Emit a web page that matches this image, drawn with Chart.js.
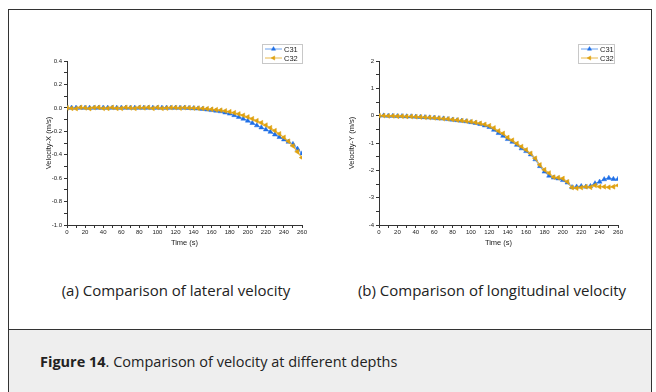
<!DOCTYPE html>
<html>
<head>
<meta charset="utf-8">
<script src="https://cdn.jsdelivr.net/npm/chart.js@4/dist/chart.umd.min.js"></script>
<style>
  body { margin: 0; width: 656px; height: 392px; background: #fff; overflow: hidden; font-family: "Open Sans", "Noto Sans", sans-serif; }
  #frame { position: absolute; left: 8px; top: 9px; width: 644px; height: 400px; border: 1px solid #333; box-sizing: border-box; }
  .chart { position: absolute; top: 10px; height: 250px; }
  #left-wrap { left: 13px; width: 320px; }
  #right-wrap { left: 335px; width: 317px; }
  .sub { position: absolute; top: 280px; font-size: 15px; color: #222; white-space: nowrap; transform: translateX(-50%); }
  #caption { position: absolute; left: 8px; top: 329px; width: 644px; height: 80px; background: #eeeeee; border: 1px solid #333; box-sizing: border-box; }
  #caption span { position: absolute; left: 31px; top: 22px; font-size: 14.5px; color: #222; white-space: nowrap; }
</style>
</head>
<body>
<div id="frame"></div>
<div class="chart" id="left-wrap"><canvas id="lateral-chart"></canvas></div>
<div class="chart" id="right-wrap"><canvas id="longitudinal-chart"></canvas></div>
<div class="sub" style="left:176px">(a) Comparison of lateral velocity</div>
<div class="sub" style="left:492px">(b) Comparison of longitudinal velocity</div>
<div id="caption"><span><b>Figure 14</b>. Comparison of velocity at different depths</span></div>

<script>
// Time samples (s)
const times = [0, 5, 10, 15, 20, 25, 30, 35, 40, 45, 50, 55, 60, 65, 70, 75, 80, 85, 90, 95,
  100, 105, 110, 115, 120, 125, 130, 135, 140, 145, 150, 155, 160, 165, 170, 175, 180, 185,
  190, 195, 200, 205, 210, 215, 220, 225, 230, 235, 240, 245, 250, 255, 260];

// Lateral velocity (m/s)
const lateralC31 = [0, 0, 0, 0, 0, 0, 0, 0, 0, 0, 0, 0, 0, 0, 0, 0, 0, 0, 0, 0,
  0, 0, 0, 0, 0, 0, 0, -0.002, -0.004, -0.006, -0.01, -0.015, -0.02, -0.025, -0.03, -0.04,
  -0.05, -0.063, -0.078, -0.093, -0.11, -0.13, -0.15, -0.168, -0.185, -0.205, -0.228, -0.25,
  -0.27, -0.29, -0.31, -0.35, -0.39];
const lateralC32 = [0, -0.004, -0.006, 0.004, 0, -0.006, 0.002, 0.004, -0.004, -0.004, 0.004, -0.004, -0.004, 0.004, 0, -0.004,
  0.004, 0, 0.004, -0.004, 0.004, -0.004, -0.002, 0.002, 0.002, -0.002, 0.002, 0, -0.002, -0.003,
  -0.005, -0.008, -0.012, -0.016, -0.02, -0.026, -0.033, -0.042, -0.052, -0.064, -0.078,
  -0.093, -0.11, -0.127, -0.148, -0.17, -0.195, -0.222, -0.252, -0.285, -0.325, -0.375, -0.425];

// Longitudinal velocity (m/s)
const longC31 = [0, 0, -0.01, -0.01, -0.02, -0.02, -0.03, -0.03, -0.04, -0.05, -0.06, -0.07,
  -0.08, -0.1, -0.11, -0.13, -0.15, -0.17, -0.19, -0.21, -0.24, -0.27, -0.31, -0.36, -0.42,
  -0.52, -0.64, -0.74, -0.86, -0.96, -1.07, -1.2, -1.3, -1.42, -1.6, -1.85, -2.05, -2.2,
  -2.27, -2.3, -2.36, -2.45, -2.62, -2.6, -2.58, -2.6, -2.58, -2.48, -2.42, -2.33, -2.28,
  -2.32, -2.32];
const longC32 = [0, 0, -0.01, -0.01, -0.02, -0.02, -0.03, -0.03, -0.04, -0.05, -0.06, -0.07,
  -0.08, -0.09, -0.11, -0.12, -0.14, -0.16, -0.18, -0.2, -0.22, -0.25, -0.28, -0.32, -0.37,
  -0.45, -0.56, -0.65, -0.8, -0.9, -1.02, -1.13, -1.25, -1.38, -1.56, -1.8, -1.98, -2.1,
  -2.25, -2.27, -2.3, -2.42, -2.63, -2.65, -2.63, -2.6, -2.62, -2.55, -2.6, -2.6, -2.62,
  -2.6, -2.55];

const seriesNames = ["C31", "C32"];
const blue = "#1f6fe6";
const blueLine = "#6aa2f0";
const gold = "#dfa10e";
const goldLine = "#e9b84a";

const axisFont = { family: "Arial, 'Liberation Sans', sans-serif", size: 6 };
const titleFont = { family: "Arial, 'Liberation Sans', sans-serif", size: 7.5 };

const toPoints = (values) => times.map((t, i) => ({ x: t, y: values[i] }));

// Small boxed legend in the top-right corner, like Origin's
const cornerLegend = {
  id: "cornerLegend",
  afterDraw(chart, args, opts) {
    const ctx = chart.ctx;
    const x = opts.x, y = opts.y, w = opts.w, h = 19;
    ctx.save();
    ctx.fillStyle = "#fff";
    ctx.fillRect(x, y, w, h);
    ctx.strokeStyle = "#c8c8c8";
    ctx.lineWidth = 1;
    ctx.strokeRect(x + 0.5, y + 0.5, w, h);
    chart.data.datasets.forEach((ds, i) => {
      const ly = y + 5 + i * 9;
      ctx.strokeStyle = ds.borderColor;
      ctx.lineWidth = 1;
      ctx.beginPath();
      ctx.moveTo(x + 3, ly);
      ctx.lineTo(x + 20, ly);
      ctx.stroke();
      ctx.fillStyle = ds.pointBackgroundColor;
      ctx.strokeStyle = ds.pointBorderColor;
      ctx.lineWidth = 0.5;
      Chart.helpers.drawPoint(ctx, {
        pointStyle: ds.pointStyle, radius: 2.4, rotation: ds.pointRotation, borderWidth: 0.5,
      }, x + 11.5, ly);
      ctx.fillStyle = "#222";
      ctx.font = "7.5px Arial, 'Liberation Sans', sans-serif";
      ctx.textBaseline = "middle";
      ctx.fillText(ds.label, x + 22, ly + 0.5);
    });
    ctx.restore();
  },
};

const makeDataset = (label, values, color, lineColor, rotation, order) => ({
  label: label,
  data: toPoints(values),
  order: order,
  borderColor: lineColor,
  borderWidth: 1.2,
  pointStyle: "triangle",
  pointRotation: rotation,
  pointRadius: 2.8,
  pointBackgroundColor: color,
  pointBorderColor: color,
  pointBorderWidth: 0.5,
  tension: 0,
});

const renderChart = (canvas, c31, c32, yOpts, layout) => {
  return new Chart(canvas, {
    type: "line",
    data: {
      datasets: [
        makeDataset(seriesNames[0], c31, blue, blueLine, 0, 1),
        makeDataset(seriesNames[1], c32, gold, goldLine, 270, 0),
      ],
    },
    options: {
      responsive: true,
      maintainAspectRatio: false,
      animation: false,
      events: [],
      layout: { padding: layout.padding },
      plugins: {
        legend: { display: false },
        tooltip: { enabled: false },
        cornerLegend: layout.legend,
      },
      scales: {
        x: {
          type: "linear",
          min: 0,
          max: 260,
          afterFit: (scale) => { scale.height = layout.xHeight; },
          border: { display: true, color: "#333", width: 1 },
          grid: { drawOnChartArea: false, drawTicks: true, tickLength: 3, color: "#333" },
          ticks: {
            stepSize: 10,
            autoSkip: false,
            maxRotation: 0,
            padding: 1,
            color: "#222",
            font: axisFont,
            callback: (v) => (v % 20 === 0 ? String(v) : ""),
          },
          title: { display: true, text: "Time (s)", color: "#222", font: titleFont, padding: { top: 1, bottom: 0 } },
        },
        y: {
          min: yOpts.min,
          max: yOpts.max,
          afterFit: (scale) => { scale.width = layout.yWidth; },
          border: { display: true, color: "#333", width: 1 },
          grid: { drawOnChartArea: false, drawTicks: true, tickLength: 3, color: "#333" },
          ticks: {
            stepSize: yOpts.step,
            autoSkip: false,
            padding: 2,
            color: "#222",
            font: axisFont,
            callback: yOpts.label,
          },
          title: { display: true, text: yOpts.title, color: "#222", font: titleFont, padding: { top: 0, bottom: 4 } },
        },
      },
    },
    plugins: [cornerLegend],
  });
};

// Left chart: lateral velocity
renderChart(document.querySelector("#lateral-chart"), lateralC31, lateralC32, {
  min: -1.0, max: 0.4, step: 0.1, title: "Velocity-X (m/s)",
  label: (v) => {
    const r = Math.round(v * 10);
    if (r % 2 !== 0) return "";
    return r === 0 ? "0.0" : (r / 10).toFixed(1);
  },
}, {
  padding: { left: 31, right: 31, top: 51, bottom: 13 },
  yWidth: 23, xHeight: 22,
  legend: { x: 249, y: 34, w: 40 },
});

// Right chart: longitudinal velocity
renderChart(document.querySelector("#longitudinal-chart"), longC31, longC32, {
  min: -4, max: 2, step: 0.5, title: "Velocity-Y (m/s)",
  label: (v) => (Number.isInteger(v) ? String(v) : ""),
}, {
  padding: { left: 12, right: 34, top: 51, bottom: 13 },
  yWidth: 32, xHeight: 22,
  legend: { x: 243, y: 34, w: 36 },
});
</script>
</body>
</html>
